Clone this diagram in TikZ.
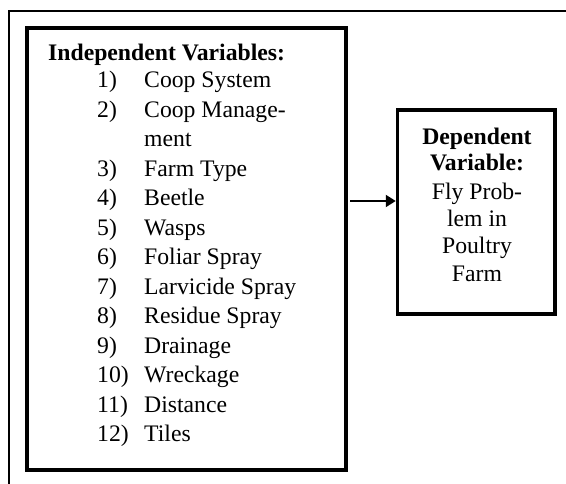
\documentclass[tikz,border=0pt]{standalone}
\usepackage{fontspec}
\setmainfont{Liberation Serif}
\usetikzlibrary{arrows.meta}
\begin{document}
\begin{tikzpicture}[x=1pt,y=-1pt,
  frameline/.style={line width=1.5pt},
  boxline/.style={draw, line width=3.5pt, rectangle, inner sep=0pt},
  txt/.style={inner sep=0pt, anchor=base west, font=\fontsize{23.7}{28}\selectfont},
  ctxt/.style={inner sep=0pt, anchor=base, font=\fontsize{23.7}{28}\selectfont},
  conn/.style={line width=2pt, -{Triangle[length=10pt,width=12pt]}}]
\useasboundingbox (0,0) rectangle (566,484);
% outer frame (only top and left visible)
\coordinate (f1) at (566,11);
\coordinate (f2) at (9,11);
\coordinate (f3) at (9,484);
\draw[frameline] (f1) -- (f2) -- (f3);
% boxes
\node[boxline, minimum width=319pt, minimum height=442pt] (L) at (186.5,249) {};
\node[boxline, minimum width=157.5pt, minimum height=204pt] (R) at (476.25,212) {};
% left text
\node[txt] (t0) at (48,61) {\bfseries Independent Variables:};
\foreach \n/\lbl/\y in {1/Coop System/88, 2/Coop Manage-/117.5, 3/Farm Type/176.5, 4/Beetle/206, 5/Wasps/235.5, 6/Foliar Spray/265, 7/Larvicide Spray/294.5, 8/Residue Spray/324, 9/Drainage/353.5, 10/Wreckage/383, 11/Distance/412.5, 12/Tiles/442}{
  \node[txt] (n\n) at (97,\y) {\n)};
  \node[txt] (i\n) at (144,\y) {\lbl};
}
\node[txt] (ment) at (144,147) {ment};
% right text
\node[ctxt] (r1) at (477,145) {\bfseries Dependent};
\node[ctxt] (r2) at (477,171) {\bfseries Variable:};
\node[ctxt] (r3) at (477,199.5) {Fly Prob-};
\node[ctxt] (r4) at (477,227) {lem in};
\node[ctxt] (r5) at (477,254) {Poultry};
\node[ctxt] (r6) at (477,282) {Farm};
% arrow
\coordinate (a1) at (350,201);
\draw[conn] (a1) -- (a1 -| R.west);
\end{tikzpicture}
\end{document}
